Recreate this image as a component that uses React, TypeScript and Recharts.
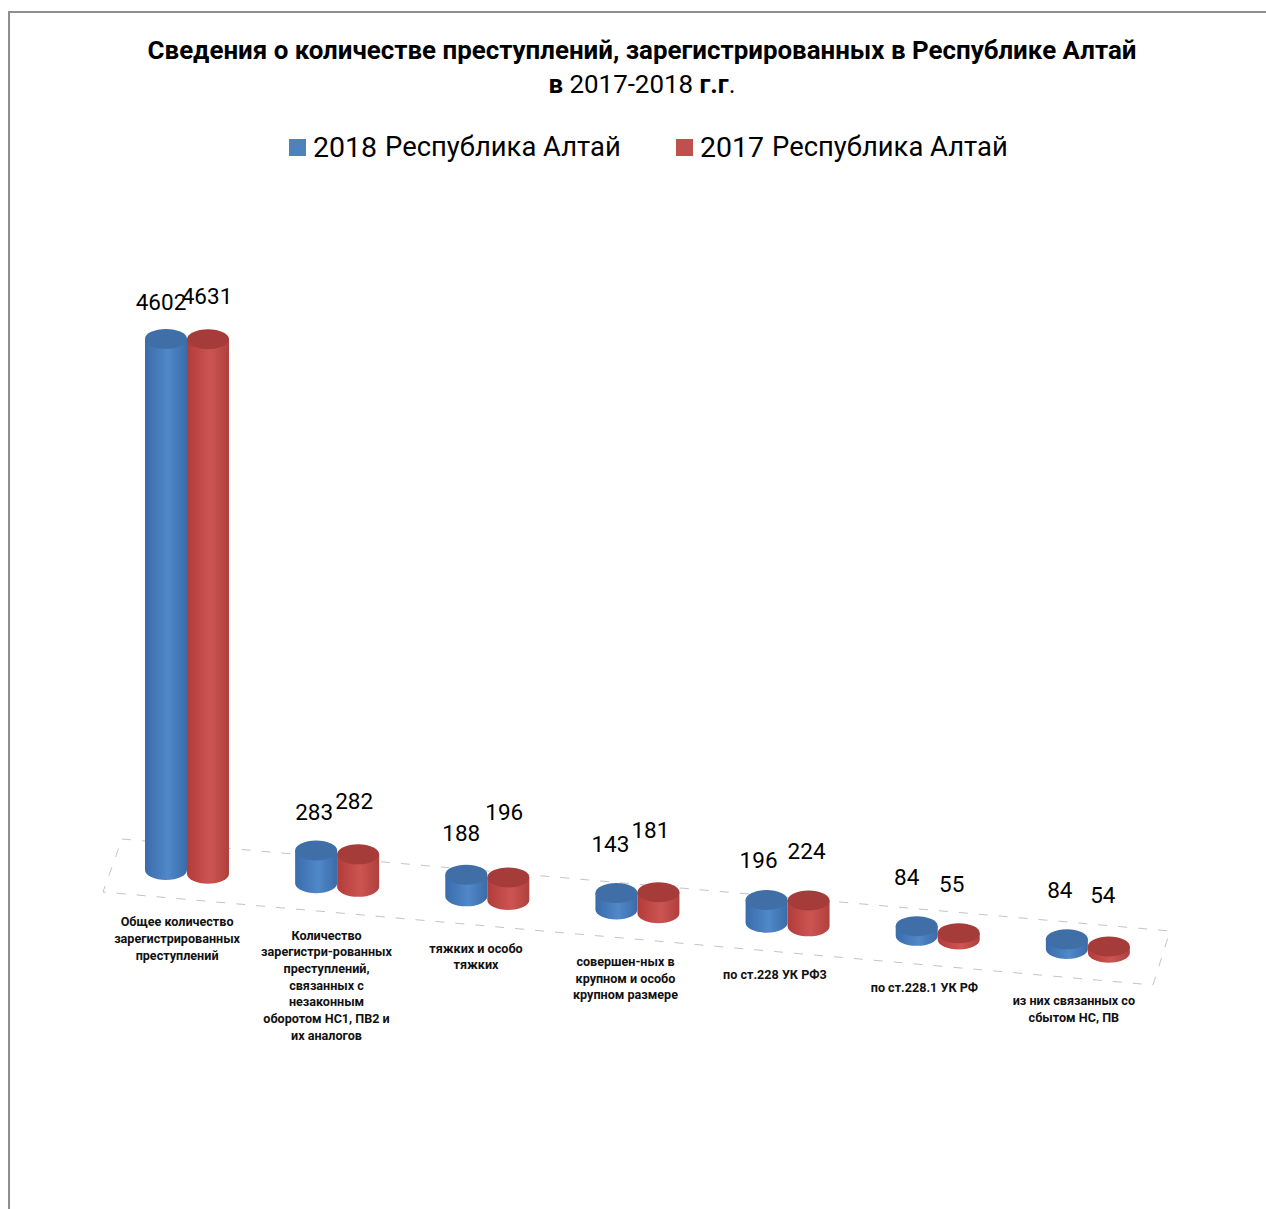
import { Bar, BarChart, LabelList, Legend, XAxis, YAxis } from "recharts";

const categories = [
  ["Общее количество", "зарегистрированных", "преступлений"],
  ["Количество", "зарегистри-рованных", "преступлений,", "связанных с", "незаконным", "оборотом НС1, ПВ2 и", "их аналогов"],
  ["тяжких и особо", "тяжких"],
  ["совершен-ных в", "крупном и особо", "крупном размере"],
  ["по ст.228 УК РФ3"],
  ["по ст.228.1 УК РФ"],
  ["из них связанных со", "сбытом НС, ПВ"],
];
const values2018 = [4602, 283, 188, 143, 196, 84, 84];
const values2017 = [4631, 282, 196, 181, 224, 55, 54];

const rows = categories.map((lines, i) => ({
  name: lines.join(" "),
  y2018: values2018[i],
  y2017: values2017[i],
}));

// hand placed labels in the original, offsets from the top of each cylinder
const nudge2018 = [[-5, -37], [-2, -39], [-5, -42], [-6, -49], [-8, -40], [-10, -49], [-7, -49]];
const nudge2017 = [[-1, -43], [-4, -53], [-4, -65], [-8, -62], [-2, -50], [-7, -49], [-6, -51]];

const FONT = "Roboto, 'Open Sans', sans-serif";
const PLOT_BOTTOM = 870;
const RY = 10;

// the floor of the 3D chart falls to the right
const slant = (x: number) => (x - 166) * 0.0877;

function Cylinder(props: any) {
  const { x, y, width, height, tone, top } = props;
  const rx = width / 2;
  const cx = x + rx;
  const y0 = y + slant(cx);
  const y1 = y0 + height;
  return (
    <g>
      <path
        d={`M${x},${y0} L${x},${y1} A${rx},${RY} 0 0 0 ${x + width},${y1} L${x + width},${y0} Z`}
        fill={`url(#${tone})`}
      />
      <ellipse cx={cx} cy={y0} rx={rx} ry={RY} fill={top} />
    </g>
  );
}

function valueLabel(nudges: number[][]) {
  return (props: any) => {
    const { x, y, width, value, index } = props;
    const cx = x + width / 2;
    const [dx, dy] = nudges[index];
    return (
      <text
        x={cx + dx}
        y={y + slant(cx) + dy}
        textAnchor="middle"
        dominantBaseline="central"
        fontFamily={FONT}
        fontSize={22.5}
        fill="#000"
      >
        {value}
      </text>
    );
  };
}

function CategoryTick(props: any) {
  const { x, payload } = props;
  const lines = categories[payload.index];
  const top = PLOT_BOTTOM + 50 + slant(x);
  // labels drift left of their category the further right they are
  const labelX = x - 10 - (x - 187) * 0.0045;
  return (
    <text textAnchor="middle" fontFamily={FONT} fontSize={12.6} fontWeight={700} fill="#111">
      {lines.map((line, i) => (
        <tspan key={line} x={labelX} y={top + i * 16.7} dominantBaseline="central">
          {line}
        </tspan>
      ))}
    </text>
  );
}

function ChartLegend() {
  const item = (color: string, year: string, left: number) => (
    <div key={year} style={{ position: "absolute", left, top: 0, display: "flex", alignItems: "center", height: 36, whiteSpace: "nowrap" }}>
      <span style={{ width: 17, height: 17, background: color, marginRight: 7 }} />
      <span style={{ fontSize: 28.5, color: "#000", fontFamily: FONT }}>{year}</span>
      <span style={{ fontSize: 27.4, color: "#000", fontFamily: FONT, marginLeft: 8 }}>Республика Алтай</span>
    </div>
  );
  return (
    <div style={{ position: "relative", height: 36 }}>
      {item("#4f81bd", "2018", 289)}
      {item("#c0504d", "2017", 676)}
    </div>
  );
}

export default function App() {
  return (
    <div style={{ position: "absolute", left: 0, top: 0, width: 1266, height: 1209, overflow: "hidden", background: "#fff" }}>
      <svg width={1266} height={1209} style={{ position: "absolute", left: 0, top: 0 }}>
        <path d="M9,1209 L9,12 L1266,12" fill="none" stroke="#8e8e8e" strokeWidth={2} />
        <polygon
          points="122,839 1170,931 1153,985 103,892"
          fill="none"
          stroke="#c4c4c4"
          strokeWidth={1}
          strokeDasharray="9 11"
        />
      </svg>
      <div
        style={{
          position: "absolute",
          left: 0,
          width: 1284,
          top: 33,
          textAlign: "center",
          fontFamily: FONT,
          fontSize: 25.9,
          lineHeight: "34px",
          color: "#000",
        }}
      >
        <div style={{ fontWeight: 700 }}>Сведения о количестве преступлений, зарегистрированных в Республике Алтай</div>
        <div>
          <b>в</b> 2017-2018 <b>г.г</b>.
        </div>
      </div>
      <BarChart
        width={1266}
        height={1209}
        data={rows}
        barSize={42}
        barGap={0}
        margin={{ top: 257, right: 103, bottom: 0, left: 112 }}
        style={{ position: "absolute", left: 0, top: 0 }}
      >
        <defs>
          <linearGradient id="toneBlue" x1="0" y1="0" x2="1" y2="0">
            <stop offset="0" stopColor="#3a6cab" />
            <stop offset="0.55" stopColor="#5088c9" />
            <stop offset="1" stopColor="#3b6ca8" />
          </linearGradient>
          <linearGradient id="toneRed" x1="0" y1="0" x2="1" y2="0">
            <stop offset="0" stopColor="#b23c3a" />
            <stop offset="0.55" stopColor="#cc5552" />
            <stop offset="1" stopColor="#b0403d" />
          </linearGradient>
        </defs>
        <XAxis dataKey="name" height={339} axisLine={false} tickLine={false} interval={0} tick={<CategoryTick />} />
        <YAxis hide domain={[0, 5000]} />
        <Legend
          verticalAlign="top"
          content={<ChartLegend />}
          wrapperStyle={{ position: "absolute", left: 0, top: 129, width: 1266 }}
        />
        <Bar
          dataKey="y2018"
          isAnimationActive={false}
          shape={(p: any) => <Cylinder {...p} tone="toneBlue" top="#3f6fa6" />}
        >
          <LabelList dataKey="y2018" content={valueLabel(nudge2018)} />
        </Bar>
        <Bar
          dataKey="y2017"
          isAnimationActive={false}
          shape={(p: any) => <Cylinder {...p} tone="toneRed" top="#a63c3a" />}
        >
          <LabelList dataKey="y2017" content={valueLabel(nudge2017)} />
        </Bar>
      </BarChart>
    </div>
  );
}
